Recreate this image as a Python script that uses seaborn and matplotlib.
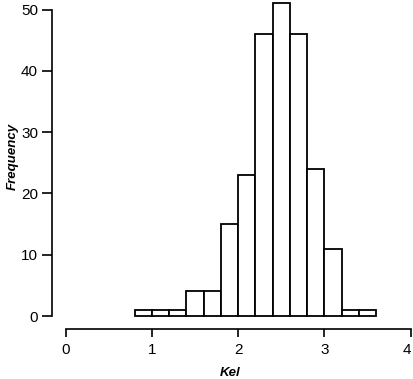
import numpy as np
import seaborn as sns
import matplotlib.pyplot as plt

# histogram counts (bin width 0.2, from 0.8 to 3.6)
bin_edges = [0.8, 1.0, 1.2, 1.4, 1.6, 1.8, 2.0, 2.2, 2.4, 2.6, 2.8, 3.0, 3.2, 3.4, 3.6]
counts = [1, 1, 1, 4, 4, 15, 23, 46, 51, 46, 24, 11, 1, 1]
x_ticks = [0, 1, 2, 3, 4]
y_ticks = [0, 10, 20, 30, 40, 50]

centers = [(a + b) / 2 for a, b in zip(bin_edges[:-1], bin_edges[1:])]

sns.set_style("ticks")
plt.rcParams['font.family'] = ['Liberation Sans', 'DejaVu Sans']
plt.rcParams['text.color'] = 'black'
plt.rcParams['xtick.color'] = 'black'
plt.rcParams['ytick.color'] = 'black'
plt.rcParams['axes.labelcolor'] = 'black'

fig = plt.figure(figsize=(4.13, 3.79), dpi=100)
ax = fig.add_axes([52 / 413, 50 / 379, 361 / 413, 329 / 379])

sns.histplot(x=centers, weights=counts, bins=bin_edges, ax=ax,
             color='white', edgecolor='black', linewidth=1.3, alpha=1)

ax.set_xlim(-0.159, 4.027)
ax.set_ylim(-2.12, 51.55)

# R-style detached axes
ax.spines['top'].set_visible(False)
ax.spines['right'].set_visible(False)
ax.spines['left'].set_bounds(0, 50)
ax.spines['bottom'].set_bounds(0, 4)
for s in ['left', 'bottom']:
    ax.spines[s].set_linewidth(1.2)
    ax.spines[s].set_color('black')

ax.set_xticks(x_ticks)
ax.set_yticks(y_ticks)
ax.tick_params(axis='x', length=6, width=1.2, pad=4, labelsize=11)
ax.tick_params(axis='y', length=7, width=1.2, pad=3, labelsize=11)
ax.get_xticklabels()[-1].set_horizontalalignment('right')

ax.set_xlabel('Kel', fontsize=9.5, fontstyle='italic', fontweight='bold')
ax.set_ylabel('Frequency', fontsize=9.5, fontstyle='italic', fontweight='bold')
ax.xaxis.set_label_coords(0.493, -0.135)
ax.xaxis.label.set_va('center')
ax.yaxis.set_label_coords(-0.108, 0.526)
ax.yaxis.label.set_va('center')

plt.savefig('out.png', dpi=100)
plt.close()
